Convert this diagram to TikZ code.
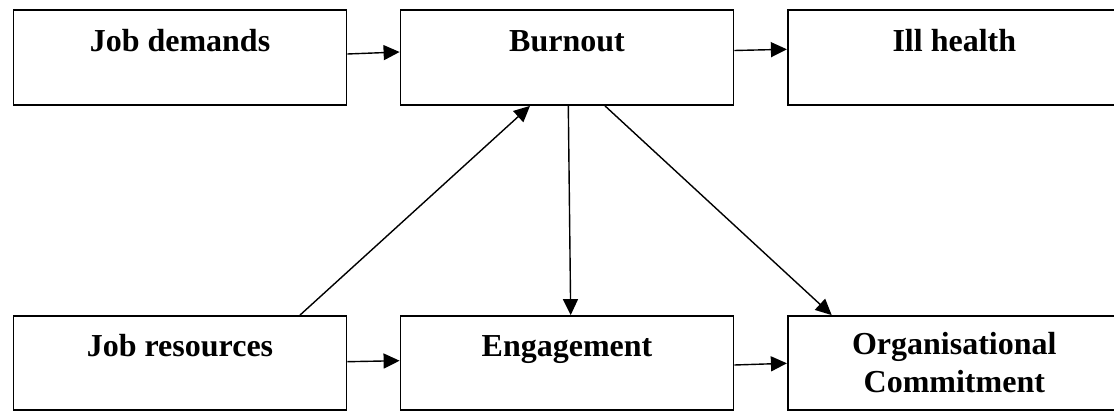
\documentclass[tikz,border=0pt]{standalone}
\usepackage{fontspec}
\setmainfont{Liberation Serif}
\usetikzlibrary{arrows.meta}
\begin{document}
\begin{tikzpicture}[x=1pt,y=1pt,
  box/.style={draw, line width=1.8pt, minimum width=333pt, inner sep=0pt},
  boxtop/.style={box, minimum height=95pt},
  boxbot/.style={box, minimum height=94pt},
  lbl/.style={anchor=base, inner sep=0pt, font=\fontsize{32}{38.4}\selectfont\bfseries},
  arr/.style={line width=1.4pt, -{Triangle[length=16pt,width=15pt]}}]
\useasboundingbox (0,0) rectangle (1114,412);
\clip (0,0) rectangle (1114,412);
% boxes
\node[boxtop] (jd) at (180,354.5) {};
\node[boxtop] (bo) at (567,354.5) {};
\node[boxtop] (ih) at (954.3,354.5) {};
\node[boxbot] (jr) at (180,49) {};
\node[boxbot] (en) at (567,49) {};
\node[boxbot] (oc) at (954.3,49) {};
% texts
\node[lbl] (tjd) at (180,360) {Job demands};
\node[lbl] (tbo) at (567,360) {Burnout};
\node[lbl] (tih) at (954.3,360) {Ill health};
\node[lbl] (tjr) at (180,55.3) {Job resources};
\node[lbl] (ten) at (567,55) {Engagement};
\node[lbl] (toc1) at (954.3,57) {Organisational};
\node[lbl] (toc2) at (954.3,19) {Commitment};
% connectors
\draw[arr] ([yshift=3.5pt]jd.east) -- ([yshift=5.5pt]bo.west);
\draw[arr] ([yshift=7pt]bo.east) -- ([yshift=8.2pt]ih.west);
\draw[arr] ([yshift=1.3pt]jr.east) -- ([yshift=2.3pt]en.west);
\draw[arr] ([yshift=-2pt]en.east) -- ([yshift=-0.3pt]oc.west);
\draw[arr] ([xshift=120pt]jr.north) -- ([xshift=-37pt]bo.south);
\draw[arr] ([xshift=1.3pt]bo.south) -- ([xshift=3.7pt]en.north);
\draw[arr] ([xshift=38pt]bo.south) -- ([xshift=-122.6pt]oc.north);
\end{tikzpicture}
\end{document}
